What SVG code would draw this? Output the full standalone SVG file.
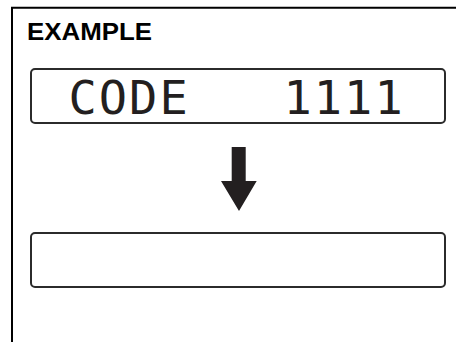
<svg xmlns="http://www.w3.org/2000/svg" width="456" height="342" viewBox="0 0 456 342">
<style>
.frame{fill:none;stroke:#000;stroke-width:2}
.lcd{fill:#fff;stroke:#2b2b2b;stroke-width:2}
.title{font-family:"Liberation Sans",Arial,sans-serif;font-weight:bold;font-size:23px;fill:#000}
.seg{font-family:"DejaVu Sans Mono","Liberation Mono",monospace;font-size:47px;fill:#231f20;letter-spacing:2px}
.arrow{fill:#231f20}
</style>
<rect width="456" height="342" fill="#fff"/>
<path class="frame" d="M12 342 V7.7 H456"/>
<text class="title" x="27" y="39.5" textLength="125" lengthAdjust="spacingAndGlyphs">EXAMPLE</text>
<g id="display-code">
<rect class="lcd" x="31" y="69" width="414" height="54" rx="4"/>
<text class="seg" x="68.5" y="114">CODE</text>
<text class="seg" x="283.5" y="114">1111</text>
</g>
<g id="connectors">
<path class="arrow" d="M231.7 147 H245.7 V181 H256.7 L239 211 L221 181 H231.7 Z"/>
</g>
<g id="display-empty">
<rect class="lcd" x="31" y="233" width="414" height="54" rx="4"/>
</g>
</svg>
